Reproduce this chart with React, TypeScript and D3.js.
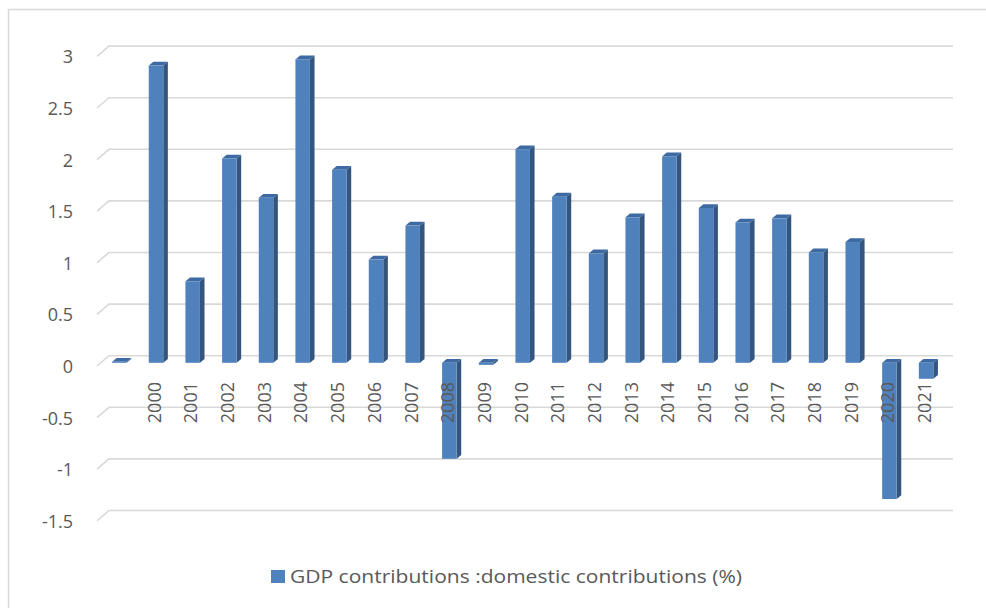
import React from "react";
import * as d3 from "d3";

const categories = ["", "2000", "2001", "2002", "2003", "2004", "2005", "2006", "2007", "2008", "2009", "2010", "2011", "2012", "2013", "2014", "2015", "2016", "2017", "2018", "2019", "2020", "2021"];
const values = [0.01, 2.88, 0.79, 1.98, 1.6, 2.94, 1.87, 1.0, 1.33, -0.93, -0.02, 2.07, 1.61, 1.06, 1.41, 2.0, 1.5, 1.36, 1.4, 1.07, 1.17, -1.32, -0.155];
const yTicks = [3, 2.5, 2, 1.5, 1, 0.5, 0, -0.5, -1, -1.5];
const seriesName = "GDP contributions :domestic contributions (%)";

const FONT = "'Open Sans', 'Noto Sans', sans-serif";

export default function App() {
  const W = 986, H = 608;
  const unit = 103.2;
  const yBack = d3.scaleLinear().domain([-1.5, 3]).range([355.7 + 1.5 * unit, 355.7 - 3 * unit]);
  const yBar = d3.scaleLinear().domain([-1.5, 3]).range([362.8 + 1.5 * unit, 362.8 - 3 * unit]);
  const x = d3.scaleBand<string>().domain(categories.map((c, i) => i + "|" + c)).range([101, 101 + 23 * 36.67]).padding(0);
  const keys = categories.map((c, i) => i + "|" + c);
  const bw = 14.5, dx = 4.6, dy = 3.8;
  const front = "#4F81BD", side = "#34557E", top = "#3D6AA2";
  const fmt = (v: number) => String(v);

  return (
    <svg width={W} height={H} style={{ position: "absolute", left: 0, top: 0, background: "#fff" }} fontFamily={FONT}>
      <rect x={8.5} y={9.5} width={W + 10} height={H + 10} fill="#fff" stroke="#d9d9d9" strokeWidth={1.5} />
      {yTicks.map((t) => {
        const yb = yBack(t);
        return (
          <g key={t}>
            <polyline points={`97,${yb + 10.3} 109,${yb} 953,${yb}`} fill="none" stroke="#d9d9d9" strokeWidth={1.6} />
            <text x={73} y={yb + 11} dy="0.35em" textAnchor="end" fontSize={18} fill="#595959">{fmt(t)}</text>
          </g>
        );
      })}
      {keys.map((k, i) => {
        const v = values[i];
        const cx = (x(k) as number) + x.bandwidth() / 2;
        const xl = cx - bw / 2;
        const y0 = yBar(0), y1 = yBar(v);
        const yt = Math.min(y0, y1), yb = Math.max(y0, y1);
        return (
          <g key={k}>
            <polygon points={`${xl + bw},${yt} ${xl + bw + dx},${yt - dy} ${xl + bw + dx},${yb - dy} ${xl + bw},${yb}`} fill={side} />
            <polygon points={`${xl},${yt} ${xl + bw},${yt} ${xl + bw + dx},${yt - dy} ${xl + dx},${yt - dy}`} fill={top} />
            <rect x={xl} y={yt} width={bw} height={Math.max(0, yb - yt)} fill={front} />
          </g>
        );
      })}
      {keys.map((k, i) => {
        const cx = (x(k) as number) + x.bandwidth() / 2 - 1.5;
        return (
          <text key={"l" + k} transform={`translate(${cx},382) rotate(-90)`} dy="0.35em" textAnchor="end" fontSize={18} fill="#595959">{categories[i]}</text>
        );
      })}
      <rect x={271} y={570} width={14} height={13} fill={front} />
      <text x={290} y={577} dy="0.35em" fontSize={18} fill="#595959" textLength={452} lengthAdjust="spacingAndGlyphs">{seriesName}</text>
    </svg>
  );
}
